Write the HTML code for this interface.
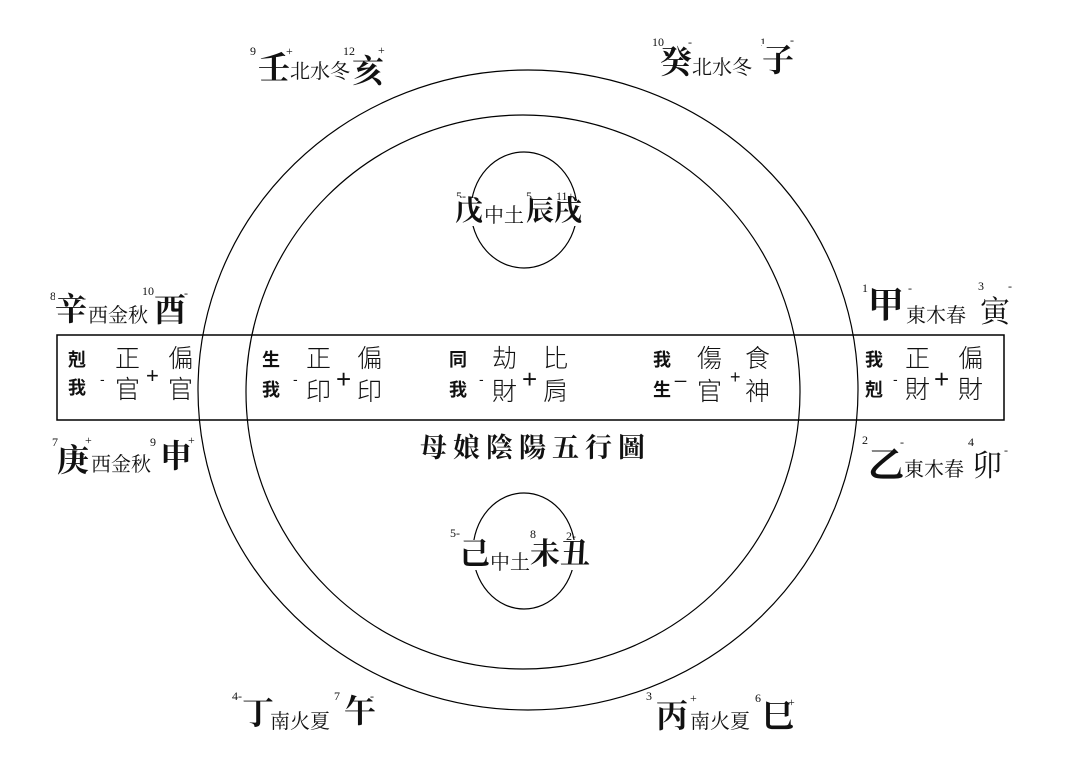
<!DOCTYPE html>
<html><head><meta charset="utf-8"><style>
body{margin:0;background:#fff;}
#c{position:relative;width:1069px;height:777px;overflow:hidden;background:#fff;font-family:"Liberation Serif","Noto Serif CJK SC","Noto Sans CJK TC",serif;color:#111;}
.t{position:absolute;white-space:nowrap;line-height:1;}
.b{font-weight:bold;font-size:32px;background:#fff;}
.s{font-size:20px;background:#fff;}
.sup{position:absolute;font-size:12px;line-height:1;font-family:"Liberation Serif",serif;}
.k{position:absolute;font-size:18px;font-weight:bold;line-height:1;font-family:"Noto Sans CJK TC",sans-serif;}
.m{position:absolute;font-size:25px;line-height:1;font-family:"Noto Sans CJK TC",sans-serif;font-weight:300;}
.p{position:absolute;font-size:22px;line-height:1;font-family:"Liberation Sans",sans-serif;}
</style></head><body><div id="c">
<svg width="1069" height="777" style="position:absolute;left:0;top:0">
<ellipse cx="528" cy="390" rx="330" ry="320" fill="none" stroke="#000" stroke-width="1.2"/>
<ellipse cx="523" cy="392" rx="277" ry="277" fill="none" stroke="#000" stroke-width="1.2"/>
<ellipse cx="524" cy="210" rx="53" ry="58" fill="none" stroke="#000" stroke-width="1.2"/>
<ellipse cx="524" cy="551" rx="51" ry="58" fill="none" stroke="#000" stroke-width="1.2"/>
<rect x="57" y="335" width="947" height="85" fill="none" stroke="#000" stroke-width="1.5"/>
</svg>

<span class="sup" style="left:250px;top:45px">9</span>
<span class="t b" style="left:258px;top:52px">壬</span>
<span class="sup" style="left:286px;top:45px">+</span>
<span class="t s" style="left:290px;top:62px">北水冬</span>
<span class="sup" style="left:343px;top:45px">12</span>
<span class="t b" style="left:352px;top:55px;background:none">亥</span>
<span class="sup" style="left:378px;top:44px">+</span>
<span class="sup" style="left:652px;top:36px">10</span>
<span class="t b" style="left:660px;top:46px">癸</span>
<span class="sup" style="left:688px;top:36px">-</span>
<span class="t s" style="left:692px;top:58px">北水冬</span>
<span class="sup" style="left:760px;top:36px">1</span>
<span class="t b" style="left:762px;top:44px">子</span>
<span class="sup" style="left:790px;top:34px">-</span>
<span class="sup" style="left:456px;top:190px">5-</span>
<span class="t b" style="left:455px;top:198px;font-size:28px">戊</span>
<span class="t s" style="left:484px;top:206px">中土</span>
<span class="sup" style="left:526px;top:190px">5</span>
<span class="t b" style="left:526px;top:198px;font-size:28px">辰戌</span>
<span class="sup" style="left:556px;top:190px">11+</span>
<span class="sup" style="left:50px;top:290px">8</span>
<span class="t b" style="left:55px;top:293px">辛</span>
<span class="sup" style="left:82px;top:292px">-</span>
<span class="t s" style="left:88px;top:306px">西金秋</span>
<span class="sup" style="left:142px;top:285px">10</span>
<span class="t b" style="left:154px;top:294px;background:none">酉</span>
<span class="sup" style="left:184px;top:287px">-</span>
<span class="sup" style="left:52px;top:436px">7</span>
<span class="t b" style="left:57px;top:444px">庚</span>
<span class="sup" style="left:85px;top:434px">+</span>
<span class="t s" style="left:91px;top:455px">西金秋</span>
<span class="sup" style="left:150px;top:436px">9</span>
<span class="t b" style="left:160px;top:440px;background:none">申</span>
<span class="sup" style="left:188px;top:434px">+</span>
<span class="sup" style="left:862px;top:282px">1</span>
<span class="t b" style="left:868px;top:287px;font-size:36px">甲</span>
<span class="sup" style="left:908px;top:282px">-</span>
<span class="t s" style="left:906px;top:306px">東木春</span>
<span class="sup" style="left:978px;top:280px">3</span>
<span class="t b" style="left:980px;top:298px;font-weight:normal;font-size:30px">寅</span>
<span class="sup" style="left:1008px;top:280px">-</span>
<span class="sup" style="left:862px;top:434px">2</span>
<span class="t b" style="left:868px;top:447px;font-size:36px">乙</span>
<span class="sup" style="left:900px;top:436px">-</span>
<span class="t s" style="left:904px;top:460px">東木春</span>
<span class="sup" style="left:968px;top:436px">4</span>
<span class="t b" style="left:972px;top:452px;font-weight:normal;font-size:30px">卯</span>
<span class="sup" style="left:1004px;top:444px">-</span>
<span class="sup" style="left:450px;top:527px">5-</span>
<span class="t b" style="left:460px;top:540px;font-size:30px">己</span>
<span class="t s" style="left:490px;top:553px">中土</span>
<span class="sup" style="left:530px;top:528px">8</span>
<span class="t b" style="left:530px;top:540px;font-size:30px">未丑</span>
<span class="sup" style="left:566px;top:530px">2-</span>
<span class="sup" style="left:232px;top:690px">4-</span>
<span class="t b" style="left:242px;top:697px">丁</span>
<span class="t s" style="left:270px;top:712px">南火夏</span>
<span class="sup" style="left:334px;top:690px">7</span>
<span class="t b" style="left:344px;top:695px">午</span>
<span class="sup" style="left:370px;top:690px">-</span>
<span class="sup" style="left:646px;top:690px">3</span>
<span class="t b" style="left:656px;top:700px">丙</span>
<span class="sup" style="left:690px;top:692px">+</span>
<span class="t s" style="left:690px;top:712px">南火夏</span>
<span class="sup" style="left:755px;top:692px">6</span>
<span class="t b" style="left:762px;top:700px">巳</span>
<span class="sup" style="left:788px;top:696px">+</span>
<span class="t" style="left:420px;top:432px;font-size:27px;font-weight:bold;letter-spacing:6px;font-family:'Noto Serif CJK SC',serif">母娘陰陽五行圖</span>

<span class="k" style="left:68px;top:350px">剋</span><span class="k" style="left:68px;top:378px">我</span>
<span class="p" style="left:100px;top:372px;font-size:14px">-</span>
<span class="m" style="left:115px;top:345px">正</span><span class="m" style="left:115px;top:376px">官</span>
<span class="p" style="left:146px;top:365px">+</span>
<span class="m" style="left:168px;top:345px">偏</span><span class="m" style="left:168px;top:376px">官</span>

<span class="k" style="left:262px;top:350px">生</span><span class="k" style="left:262px;top:380px">我</span>
<span class="p" style="left:293px;top:372px;font-size:14px">-</span>
<span class="m" style="left:306px;top:345px">正</span><span class="m" style="left:306px;top:378px">印</span>
<span class="p" style="left:336px;top:366px;font-size:26px">+</span>
<span class="m" style="left:357px;top:345px">偏</span><span class="m" style="left:357px;top:378px">印</span>

<span class="k" style="left:449px;top:350px">同</span><span class="k" style="left:449px;top:380px">我</span>
<span class="p" style="left:479px;top:372px;font-size:14px">-</span>
<span class="m" style="left:492px;top:345px">劫</span><span class="m" style="left:492px;top:378px">財</span>
<span class="p" style="left:522px;top:366px;font-size:26px">+</span>
<span class="m" style="left:543px;top:345px">比</span><span class="m" style="left:543px;top:378px">肩</span>

<span class="k" style="left:653px;top:350px">我</span><span class="k" style="left:653px;top:380px">生</span>
<span class="p" style="left:675px;top:362px;font-size:20px">_</span>
<span class="m" style="left:697px;top:345px">傷</span><span class="m" style="left:697px;top:378px">官</span>
<span class="p" style="left:730px;top:368px;font-size:18px">+</span>
<span class="m" style="left:745px;top:345px">食</span><span class="m" style="left:745px;top:378px">神</span>

<span class="k" style="left:865px;top:350px">我</span><span class="k" style="left:865px;top:380px">剋</span>
<span class="p" style="left:893px;top:372px;font-size:14px">-</span>
<span class="m" style="left:905px;top:345px">正</span><span class="m" style="left:905px;top:376px">財</span>
<span class="p" style="left:934px;top:366px;font-size:26px">+</span>
<span class="m" style="left:958px;top:345px">偏</span><span class="m" style="left:958px;top:376px">財</span>
</div></body></html>
